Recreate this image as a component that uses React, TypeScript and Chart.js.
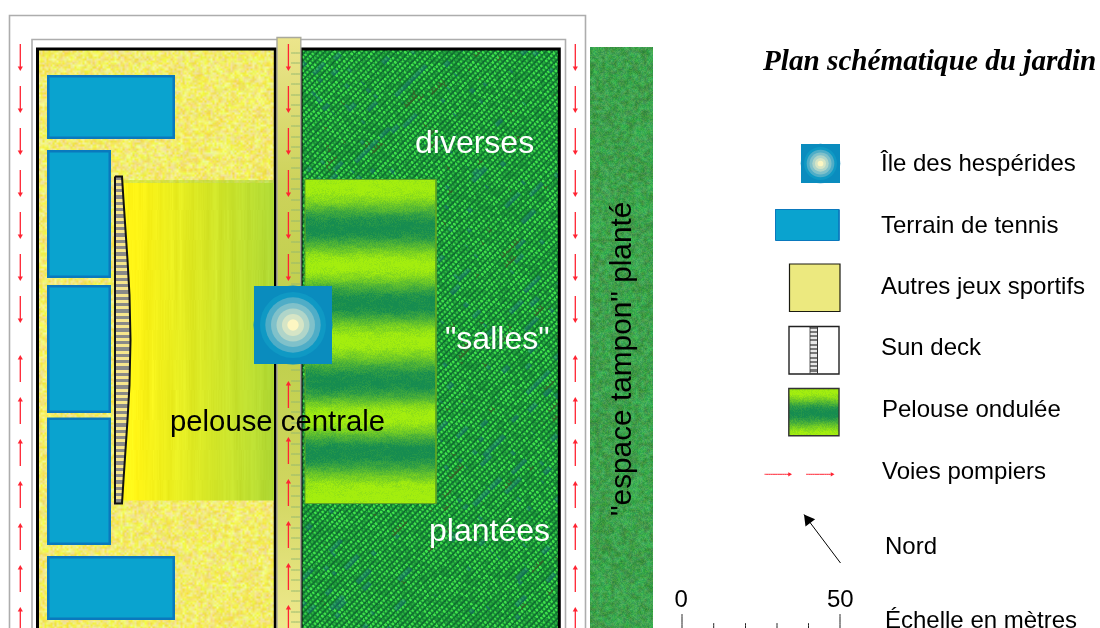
import React, { useEffect, useRef } from "react";
import { Chart, registerables } from "chart.js";

Chart.register(...registerables);

// Plan geometry, in plan units
const outerFrame = [9.5, 15.5, 585.5, 660];
const innerFrame = [32, 39.5, 565.5, 660];
const sportsGround = [37.5, 49, 275.3, 660];
const plantedGround = [301, 49, 559.3, 660];
const alley = [277, 37.5, 300.8, 660];
const bufferStrip = [590, 47, 653, 660];
const centralLawn = [122, 180, 274, 500.5];
const wavyLawn = [304.5, 179, 436.5, 504];
const tennisCourts = [
  [47, 75, 175, 139],
  [47, 150, 111, 278],
  [47, 285, 111, 413],
  [47, 417.5, 111, 545],
  [47, 556, 175, 620],
];
const sunDeckOutline = [
  [115, 176.5], [122, 176.5], [123.5, 200], [125.5, 230], [127.5, 260], [129.5, 295], [130.5, 340],
  [129.5, 385], [127.5, 420], [125.5, 450], [123.5, 480], [122, 503.5], [115, 503.5], [115, 176.5],
];
const islandSquare = [254, 286, 332, 364];
const islandCentre = [293, 325];
const islandRadii = [39.5, 33, 27.7, 22, 16.5, 11, 5.7];
const islandColours = ["#0a8cbe", "#0f99c4", "#4fadc7", "#80c1ca", "#b0d5c9", "#d6e5c6", "#fdf6c2"];

// Fire lanes
const laneLeftDownTips = [71, 113, 155, 197, 239, 281, 323];
const laneLeftUpTips = [355, 397, 439, 481, 523, 565, 607];
const laneCentreDownTips = [71, 113, 155, 197, 239, 281];
const laneCentreUpTips = [381, 437, 479, 521, 563, 605];
const laneX = { left: 20.3, centre: 288.4, right: 575.3 };
const arrowLength = 27;
const alleyTicks = [53, 63, 74, 84, 95, 105, 116, 126, 137, 147, 158, 168, 179, 189, 200, 210, 221, 231, 242, 252, 263, 273, 284, 370, 381, 391, 402, 412, 423, 433, 444, 454, 465, 475, 486, 496, 507, 517, 528, 538, 549, 559, 570, 580, 591, 601, 612, 622];

// Legend
const legendIslandSquare = [801, 144, 840, 183];
const legendIslandCentre = [820.5, 163.5];
const legendCourt = [775.5, 209.5, 839, 240.5];
const legendSports = [789.5, 264, 840, 311.5];
const legendDeck = [789, 326.5, 839, 374];
const legendDeckStrip = [810, 327, 817.5, 373.5];
const legendLawn = [788.8, 388.5, 839, 435.8];
const legendLanes = [[764.5, 791.5], [806, 834]];
const legendLaneY = 474.3;
const northArrow = [[840.5, 563], [804, 514.5]];
const scaleTickX = [682, 713.7, 745.5, 777, 808.5, 840];
const scaleTickTopY = [614, 623, 623, 623, 623, 614];

const labels = [
  { text: "Plan schématique du jardin", x: 763, y: 70, font: 'italic bold 29.2px "Liberation Serif"', color: "#000" },
  { text: "Île des hespérides", x: 881, y: 171, font: '24px "Liberation Sans"', color: "#000" },
  { text: "Terrain de tennis", x: 881, y: 233, font: '24px "Liberation Sans"', color: "#000" },
  { text: "Autres jeux sportifs", x: 881, y: 294, font: '24px "Liberation Sans"', color: "#000" },
  { text: "Sun deck", x: 881, y: 355, font: '24px "Liberation Sans"', color: "#000" },
  { text: "Pelouse ondulée", x: 882, y: 417, font: '24px "Liberation Sans"', color: "#000" },
  { text: "Voies pompiers", x: 882, y: 479, font: '24px "Liberation Sans"', color: "#000" },
  { text: "Nord", x: 885, y: 554, font: '24px "Liberation Sans"', color: "#000" },
  { text: "Échelle en mètres", x: 885, y: 628, font: '24px "Liberation Sans"', color: "#000" },
  { text: "0", x: 674.5, y: 607, font: '24px "Liberation Sans"', color: "#000" },
  { text: "50", x: 827, y: 607, font: '24px "Liberation Sans"', color: "#000" },
  { text: "diverses", x: 415, y: 153, font: '32px "Liberation Sans"', color: "#fff" },
  { text: "\"salles\"", x: 445, y: 349, font: '32px "Liberation Sans"', color: "#fff" },
  { text: "plantées", x: 429, y: 541, font: '32px "Liberation Sans"', color: "#fff" },
  { text: "pelouse centrale", x: 170, y: 431, font: '29.3px "Liberation Sans"', color: "#000" },
  { text: "\"espace tampon\" planté", x: 631, y: 516, font: '29.8px "Liberation Sans"', color: "#000", rotate: -90 },
];

// ---- surface textures (style only, not data) ----
const grain = (x: number, y: number) => {
  const s = Math.sin(x * 127.1 + y * 311.7) * 43758.5453;
  return s - Math.floor(s);
};
const soft = (x: number, y: number, size: number) => {
  const gx = x / size, gy = y / size;
  const ix = Math.floor(gx), iy = Math.floor(gy);
  const fx = gx - ix, fy = gy - iy;
  const a = grain(ix, iy), b = grain(ix + 1, iy), c = grain(ix, iy + 1), d = grain(ix + 1, iy + 1);
  return (a * (1 - fx) + b * fx) * (1 - fy) + (c * (1 - fx) + d * fx) * fy;
};
const mix = (a: number[], b: number[], t: number) => a.map((v, i) => v + (b[i] - v) * t);
const clamp01 = (t: number) => Math.max(0, Math.min(1, t));

function texture(ctx: CanvasRenderingContext2D, box: number[], fn: (x: number, y: number) => number[]) {
  const c = document.createElement("canvas");
  c.width = 1100;
  c.height = 628;
  const g = c.getContext("2d")!;
  const x0 = Math.floor(box[0]), y0 = Math.floor(box[1]);
  const w = Math.min(1100, Math.ceil(box[2])) - x0, h = Math.min(628, Math.ceil(box[3])) - y0;
  const img = g.createImageData(w, h);
  for (let y = 0; y < h; y++) {
    for (let x = 0; x < w; x++) {
      const p = fn(x + x0, y + y0);
      const k = (y * w + x) * 4;
      img.data[k] = p[0];
      img.data[k + 1] = p[1];
      img.data[k + 2] = p[2];
      img.data[k + 3] = p[3] === undefined ? 255 : p[3];
    }
  }
  g.putImageData(img, x0, y0);
  return ctx.createPattern(c, "repeat")!;
}

const sandFn = (x: number, y: number) => {
  const a = soft(x, y, 3) - 0.5, b = soft(x + 71, y + 13, 3) - 0.5, c = soft(x + 19, y + 91, 2) - 0.5;
  return [242 + a * 12, 235 + b * 36, 110 + c * 100];
};
const weaveFn = (x: number, y: number) => {
  const u = x + y, v = x - y;
  const row = Math.floor(u / 6.5);
  const ridge = Math.pow(0.5 + 0.5 * Math.sin((2 * Math.PI * u) / 6.5), 0.6);
  const cellPos = v / 5 + row * 0.37;
  const cell = Math.floor(cellPos);
  const bump = 0.5 + 0.5 * Math.cos(2 * Math.PI * (cellPos - cell - 0.5));
  const bright = grain(cell + 3, row + 7);
  let b = ridge * (0.3 + 0.85 * bump * (0.25 + bright)) + 0.14 + (grain(x, y) - 0.5) * 0.14;
  b = clamp01(b);
  let col = b < 0.5 ? mix([8, 88, 44], [28, 150, 56], b * 2) : mix([28, 150, 56], [64, 226, 76], (b - 0.5) * 2);
  const streak = soft(v * 0.05 + row * 19, row * 3, 1);
  if (streak > 0.88) col = mix(col, [26, 110, 130], 0.4);
  else if (streak < 0.07 && b < 0.5) col = mix(col, [84, 78, 34], 0.4);
  return col;
};
const bufferFn = (x: number, y: number) => {
  const a = grain(x, y) - 0.5, b = soft(x, y, 3) - 0.5, c = soft(x + 33, y + 7, 2) - 0.5;
  return [62 + a * 30 + c * 24, 160 + a * 24 + b * 40, 76 + b * 26 + c * 28];
};
const lawnFn = (x: number, y: number) => {
  const t = clamp01((x - 136) / 138);
  const streak = (soft(x, y * 0.03, 4) - 0.5) * 22 + (grain(x, Math.floor(y / 30)) - 0.5) * 8;
  const c = mix([255, 245, 22], [176, 218, 54], t);
  const alpha = y < 183 ? 120 + soft(x, y, 2) * 60 : 255;
  const edge = y < 183 ? mix(c, [150, 200, 70], 0.5) : c;
  return [edge[0] + streak * 0.5, edge[1] + streak * 0.6, edge[2] + streak * 0.6, alpha];
};
const wavyCrests = [179, 187, 228, 265, 303, 340, 382, 417, 452, 492, 505];
const wavyValue = (y: number, stops: number[]) => {
  for (let i = 1; i < stops.length; i++) {
    if (y <= stops[i]) {
      const f = (y - stops[i - 1]) / (stops[i] - stops[i - 1]);
      const e = 0.5 - 0.5 * Math.cos(Math.PI * f);
      let first = i % 2 === 0 ? 1 : 0;
      let to = 1 - first;
      if (i === 1) { first = 1; to = 1; }
      if (i === stops.length - 1 && i % 2 === 0) to = 1;
      return first + (to - first) * e;
    }
  }
  return 1;
};
const wavyColour = (x: number, y: number, stops: number[]) => {
  const jitter = (grain(x, y) - 0.5) * 0.2 + (soft(x, y * 3, 9) - 0.5) * 0.14;
  const t = clamp01(wavyValue(y, stops) + jitter);
  return mix([22, 140, 80], [164, 238, 14], Math.pow(t, 1.05));
};
const wavyFn = (x: number, y: number) => wavyColour(x, y, wavyCrests);
const legendLawnFn = (x: number, y: number) => wavyColour(x, y, [388, 391, 412, 436]);
const deckFn = (x: number, y: number) => (((y - 176) % 6.33) + 6.33) % 6.33 < 3.2 ? [138, 138, 136] : [246, 230, 140];
const legendDeckFn = (x: number, y: number) => (((y - 326) % 4.3) + 4.3) % 4.3 < 2.1 ? [120, 120, 120] : [232, 232, 232];

// ---- dataset helpers ----
const corners = (b: number[]) => [
  { x: b[0], y: b[1] }, { x: b[2], y: b[1] }, { x: b[2], y: b[3] }, { x: b[0], y: b[3] }, { x: b[0], y: b[1] },
];
const inset = (b: number[], d: number) => [b[0] + d, b[1] + d, b[2] - d, b[3] - d];
const shape = (box: number[], fill: any, stroke = "transparent", width = 0) => ({
  data: corners(box), showLine: true, fill: "shape", backgroundColor: fill, borderColor: stroke,
  borderWidth: width, pointRadius: 0, borderJoinStyle: "miter", borderCapStyle: "square", tension: 0,
});
const outline = (box: number[], stroke: string, width: number) => ({
  data: corners(box), showLine: true, fill: false, borderColor: stroke, borderWidth: width,
  pointRadius: 0, borderJoinStyle: "miter", borderCapStyle: "square", tension: 0,
});
const dots = (centre: number[], radius: number, colour: string) => ({
  data: [{ x: centre[0], y: centre[1] }], showLine: false, pointRadius: radius, pointBorderWidth: 0,
  pointBackgroundColor: colour, pointHoverRadius: radius,
});
const RED = "#ff2433";
function laneArrows(x: number, tips: number[], dir: number) {
  const shaft: any[] = [];
  const heads: any[] = [];
  tips.forEach((t) => {
    shaft.push({ x, y: t - dir * arrowLength }, { x, y: t - dir * 2 }, { x, y: null });
    heads.push({ x, y: t - dir * 3 });
  });
  return [
    { data: shaft, showLine: true, spanGaps: false, fill: false, borderColor: RED, borderWidth: 1.3, pointRadius: 0, tension: 0.001 },
    { data: heads, showLine: false, pointStyle: "triangle", pointRadius: 3, pointBorderWidth: 0, pointBackgroundColor: RED, rotation: dir > 0 ? 180 : 0 },
  ];
}

const textPlugin = {
  id: "planLabels",
  afterDatasetsDraw(chart: any) {
    const { ctx, scales } = chart;
    ctx.save();
    ctx.textBaseline = "alphabetic";
    ctx.textAlign = "left";
    labels.forEach((l: any) => {
      ctx.save();
      ctx.translate(scales.x.getPixelForValue(l.x), scales.y.getPixelForValue(l.y));
      if (l.rotate) ctx.rotate((l.rotate * Math.PI) / 180);
      ctx.font = l.font;
      ctx.fillStyle = l.color;
      ctx.fillText(l.text, 0, 0);
      ctx.restore();
    });
    ctx.restore();
  },
};

function buildDatasets(ctx: CanvasRenderingContext2D) {
  const sand = texture(ctx, sportsGround, sandFn);
  const weave = texture(ctx, plantedGround, weaveFn);
  const buffer = texture(ctx, bufferStrip, bufferFn);
  const lawn = texture(ctx, centralLawn, lawnFn);
  const wavy = texture(ctx, wavyLawn, wavyFn);
  const deck = texture(ctx, [113, 174, 133, 506], deckFn);
  const legendWavy = texture(ctx, legendLawn, legendLawnFn);
  const legendStripe = texture(ctx, legendDeckStrip, legendDeckFn);

  const alleyFill = ctx.createLinearGradient(0, 37, 0, 628);
  alleyFill.addColorStop(0, "#ece58c");
  alleyFill.addColorStop(0.25, "#ccd25a");
  alleyFill.addColorStop(0.5, "#bdcf4a");
  alleyFill.addColorStop(0.75, "#cfd55e");
  alleyFill.addColorStop(1, "#efe98e");

  const tickData: any[] = [];
  alleyTicks.forEach((y) => tickData.push({ x: 291, y }, { x: 300, y }, { x: 291, y: null }));

  const scaleData: any[] = [];
  scaleTickX.forEach((x, i) => scaleData.push({ x, y: 640 }, { x, y: scaleTickTopY[i] }, { x, y: null }));

  const legendLaneData: any[] = [];
  const legendHeads: any[] = [];
  legendLanes.forEach(([a, b]) => {
    legendLaneData.push({ x: a, y: legendLaneY }, { x: b - 1, y: legendLaneY }, { x: a, y: null });
    legendHeads.push({ x: b - 2, y: legendLaneY });
  });

  const dx = northArrow[0][0] - northArrow[1][0];
  const dy = northArrow[0][1] - northArrow[1][1];
  const len = Math.hypot(dx, dy);
  const northHead = { x: northArrow[1][0] + (dx / len) * 7, y: northArrow[1][1] + (dy / len) * 7 };

  const list: any[] = [
    outline(outerFrame, "#adadad", 1.6),
    outline(innerFrame, "#adadad", 1.6),
    shape(sportsGround, sand),
    shape(plantedGround, weave),
    outline(sportsGround, "#000", 3),
    outline(plantedGround, "#000", 3),
    shape(bufferStrip, buffer),
    shape(centralLawn, lawn),
    shape(inset(wavyLawn, 0.5), wavy, "#5fa524", 1),
    {
      data: sunDeckOutline.map(([x, y]) => ({ x, y })), showLine: true, fill: "shape", backgroundColor: deck,
      borderColor: "#111", borderWidth: 2, pointRadius: 0, borderJoinStyle: "miter", tension: 0,
    },
    ...tennisCourts.map((b) => shape(inset(b, 1.25), "#0aa3cf", "#0a79bd", 2.5)),
    shape(alley, alleyFill, "#a9a99c", 1.4),
    { data: tickData, showLine: true, spanGaps: false, fill: false, borderColor: "#94b870", borderWidth: 1, pointRadius: 0, tension: 0.001 },
    ...laneArrows(laneX.left, laneLeftDownTips, 1),
    ...laneArrows(laneX.left, laneLeftUpTips, -1),
    ...laneArrows(laneX.centre, laneCentreDownTips, 1),
    ...laneArrows(laneX.centre, laneCentreUpTips, -1),
    ...laneArrows(laneX.right, laneLeftDownTips, 1),
    ...laneArrows(laneX.right, laneLeftUpTips, -1),
    dots(islandCentre, islandRadii[0], islandColours[0]),
    shape(islandSquare, islandColours[0]),
    ...islandRadii.slice(1).map((r, i) => dots(islandCentre, r, islandColours[i + 1])),
    dots(legendIslandCentre, islandRadii[0] / 2, islandColours[0]),
    shape(legendIslandSquare, islandColours[0]),
    ...islandRadii.slice(1).map((r, i) => dots(legendIslandCentre, r / 2, islandColours[i + 1])),
    shape(legendCourt, "#0aa3cf", "#0a79bd", 1),
    shape(legendSports, "#ece97f", "#1a1a10", 1.2),
    shape(legendDeck, "#ffffff", "#222", 1.4),
    shape(legendDeckStrip, legendStripe, "#333", 0.8),
    shape(legendLawn, legendWavy, "#333", 1.4),
    { data: legendLaneData, showLine: true, spanGaps: false, fill: false, borderColor: RED, borderWidth: 1, pointRadius: 0, tension: 0.001 },
    { data: legendHeads, showLine: false, pointStyle: "triangle", pointRadius: 2.5, pointBorderWidth: 0, pointBackgroundColor: RED, rotation: 90 },
    { data: northArrow.map(([x, y]) => ({ x, y })), showLine: true, fill: false, borderColor: "#000", borderWidth: 1, pointRadius: 0 },
    { data: [northHead], showLine: false, pointStyle: "triangle", pointRadius: 7, pointBorderWidth: 0, pointBackgroundColor: "#000", rotation: (-Math.atan2(dx, dy) * 180) / Math.PI },
    { data: scaleData, showLine: true, spanGaps: false, fill: false, borderColor: "#222", borderWidth: 1, pointRadius: 0, tension: 0.001 },
  ];
  return list.reverse();
}

export default function App() {
  const ref = useRef<HTMLCanvasElement>(null);
  useEffect(() => {
    const canvas = ref.current!;
    const ctx = canvas.getContext("2d")!;
    const chart = new Chart(canvas, {
      type: "scatter",
      data: { datasets: buildDatasets(ctx) },
      plugins: [textPlugin],
      options: {
        animation: false,
        responsive: false,
        devicePixelRatio: 1,
        events: [],
        layout: { padding: 0, autoPadding: false },
        plugins: { legend: { display: false }, tooltip: { enabled: false } },
        scales: {
          x: { type: "linear", min: 0, max: 1100, display: false },
          y: { type: "linear", min: 0, max: 628, reverse: true, display: false },
        },
      },
    } as any);
    return () => chart.destroy();
  }, []);
  return (
    <div style={{ position: "absolute", left: 0, top: 0, width: 1100, height: 628, background: "#fff", overflow: "hidden" }}>
      <canvas ref={ref} width={1100} height={628} style={{ display: "block" }} />
    </div>
  );
}
